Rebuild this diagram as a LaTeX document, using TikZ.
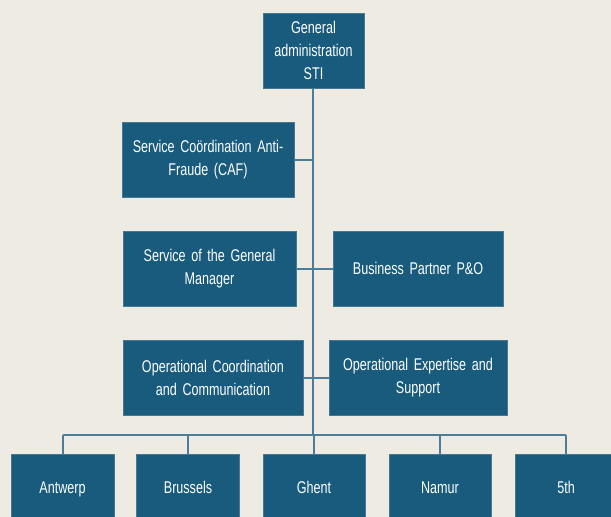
\documentclass[tikz,border=0pt]{standalone}
\usepackage{fontspec}
\setmainfont[FakeStretch=0.74]{Liberation Sans}
\definecolor{paper}{RGB}{238,235,226}
\definecolor{boxfill}{RGB}{24,91,125}
\definecolor{boxedge}{RGB}{70,120,150}
\definecolor{wire}{RGB}{76,125,153}
% label face: condensed, with tighter word spaces
\newcommand{\unitfont}{\fontsize{17}{23}\selectfont\fontdimen2\font=3.4pt\relax}
\begin{document}
\begin{tikzpicture}[x=1pt,y=-1pt,
  unit/.style={draw=boxedge, line width=0.6pt, fill=boxfill, text=white,
    minimum height=75pt, inner sep=2pt, align=center, font=\unitfont},
  branch/.style={unit, minimum height=76pt, text height=12pt, text depth=10pt},
  link/.style={draw=wire, line width=2pt}]
\useasboundingbox (0,0) rectangle (611,517);
\fill[paper] (0,0) rectangle (611,517);
\clip (0,0) rectangle (611,517);

% head of the administration
\node[unit, minimum width=101pt, text width=95pt] (sti) at (313.5,50.5) {General\\administration\\STI};

% staff services along the trunk
\node[unit, minimum width=172pt, text width=166pt] (caf) at (208,159.5) {Service Coördination Anti-\\Fraude (CAF)};
\node[unit, minimum width=173pt, text width=166pt] (sgm) at (209.5,268.5) {Service of the General\\Manager};
\node[unit, minimum width=170pt, text width=164pt] (bp)  at (418,268.5) {Business Partner P\&O};
\node[unit, minimum width=180pt, text width=174pt] (occ) at (213,377.5) {Operational Coordination\\and Communication};
\node[unit, minimum width=178pt, text width=172pt] (oes) at (418,377.5) {Operational Expertise and\\Support};

% regional directorates
\node[branch, minimum width=103pt, text width=97pt] (ant) at (62.5,492) {Antwerp};
\node[branch, minimum width=103pt, text width=97pt] (bru) at (188,492)  {Brussels};
\node[branch, minimum width=102pt, text width=96pt] (ghe) at (314,492)  {Ghent};
\node[branch, minimum width=102pt, text width=96pt] (nam) at (440,492)  {Namur};
\node[branch, minimum width=102pt, text width=96pt] (fif) at (566,492)  {5th};

% trunk and distribution bus
\coordinate (bus) at (313,434.5);
\draw[link] (sti.south -| bus) -- (bus);
\draw[link] (caf.east) -- (caf.east -| bus);
\draw[link] (sgm.east) -- (bp.west);
\draw[link] (occ.east) -- (oes.west);
\draw[link] (ant.north |- bus) -- (fif.north |- bus);
\foreach \n in {ant,bru,ghe,nam,fif}
  \draw[link] (\n.north |- bus) -- (\n.north);
\end{tikzpicture}
\end{document}
